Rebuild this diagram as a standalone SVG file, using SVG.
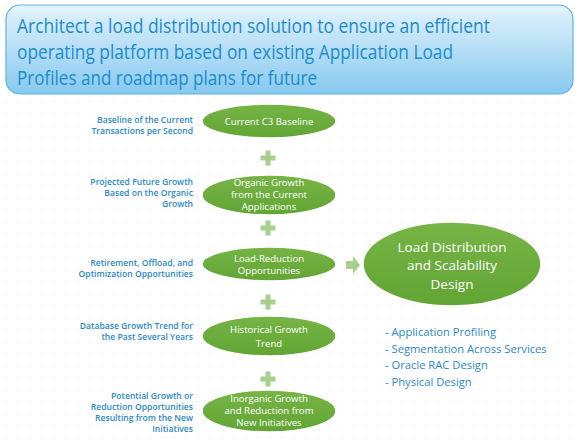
<svg xmlns="http://www.w3.org/2000/svg" width="578" height="448" viewBox="0 0 578 448">
<defs>
<linearGradient id="tg" x1="0" y1="0" x2="0" y2="1">
<stop offset="0" stop-color="#e4f3fc"/>
<stop offset="1" stop-color="#86c9ef"/>
</linearGradient>
<linearGradient id="eg" x1="0" y1="0" x2="0" y2="1">
<stop offset="0" stop-color="#76b445"/>
<stop offset="1" stop-color="#62a535"/>
</linearGradient>
<pattern id="dots" width="12" height="12" patternUnits="userSpaceOnUse">
<rect x="5" y="5" width="2" height="2" fill="#f6f7f8"/>
</pattern>
<g id="plus"><path d="M-2.5,-7.5h5v5h5v5h-5v5h-5v-5h-5v-5h5z" fill="#a8d08d"/></g>
</defs>
<style>
.title{font-family:"Open Sans","Liberation Sans",sans-serif;font-size:20px;fill:#1b8ccc}
.lbl{font-family:"Open Sans","Liberation Sans",sans-serif;font-size:8.6px;font-weight:600;fill:#2c89c4;text-anchor:end}
.node{fill:url(#eg);stroke:#fff;stroke-width:1.5}
.nt{font-family:"Open Sans","Liberation Sans",sans-serif;font-size:9.6px;fill:#fff;text-anchor:middle}
.bt{font-family:"Open Sans","Liberation Sans",sans-serif;font-size:13.5px;fill:#fff;text-anchor:middle}
.bul{font-family:"Open Sans","Liberation Sans",sans-serif;font-size:11.2px;fill:#2c89c4}
</style>
<rect width="578" height="448" fill="#fff"/>
<rect width="578" height="448" fill="url(#dots)"/>
<g id="title">
<rect x="6" y="5" width="567" height="89" rx="14" fill="url(#tg)" stroke="#5fb3e3" stroke-width="1.2"/>
<text class="title" x="17" y="33" textLength="473" lengthAdjust="spacingAndGlyphs">Architect a load distribution solution to ensure an efficient</text>
<text class="title" x="17" y="59" textLength="436" lengthAdjust="spacingAndGlyphs">operating platform based on existing Application Load</text>
<text class="title" x="17" y="85" textLength="300" lengthAdjust="spacingAndGlyphs">Profiles and roadmap plans for future</text>
</g>
<g id="labels">
<text class="lbl" x="193" y="123">Baseline of the Current</text>
<text class="lbl" x="193" y="134">Transactions per Second</text>
<text class="lbl" x="193" y="185">Projected Future Growth</text>
<text class="lbl" x="193" y="196">Based on the Organic</text>
<text class="lbl" x="193" y="207">Growth</text>
<text class="lbl" x="193" y="266">Retirement, Offload, and</text>
<text class="lbl" x="193" y="277">Optimization Opportunities</text>
<text class="lbl" x="193" y="329">Database Growth Trend for</text>
<text class="lbl" x="193" y="340">the Past Several Years</text>
<text class="lbl" x="193" y="399">Potential Growth or</text>
<text class="lbl" x="193" y="410">Reduction Opportunities</text>
<text class="lbl" x="193" y="421">Resulting from the New</text>
<text class="lbl" x="193" y="432">Initiatives</text>
</g>
<g id="connectors">
<use href="#plus" x="268" y="158"/>
<use href="#plus" x="268" y="228"/>
<use href="#plus" x="268" y="302"/>
<use href="#plus" x="268" y="379"/>
<path d="M346,261h7v-5l7,9l-7,9v-5h-7z" fill="#a8d08d"/>
</g>
<g id="n1">
<ellipse class="node" cx="269" cy="121" rx="67" ry="17"/>
<text class="nt" x="269" y="124.5">Current C3 Baseline</text>
</g>
<g id="n2">
<ellipse class="node" cx="269" cy="195" rx="67" ry="20"/>
<text class="nt" x="269" y="186">Organic Growth</text>
<text class="nt" x="269" y="198">from the Current</text>
<text class="nt" x="269" y="210">Applications</text>
</g>
<g id="n3">
<ellipse class="node" cx="269" cy="264" rx="67" ry="17"/>
<text class="nt" x="269" y="261.5">Load-Reduction</text>
<text class="nt" x="269" y="274">Opportunities</text>
</g>
<g id="n4">
<ellipse class="node" cx="269" cy="336" rx="67" ry="20"/>
<text class="nt" x="269" y="333">Historical Growth</text>
<text class="nt" x="269" y="347">Trend</text>
</g>
<g id="n5">
<ellipse class="node" cx="269" cy="411" rx="67" ry="21"/>
<text class="nt" x="269" y="402">Inorganic Growth</text>
<text class="nt" x="269" y="414">and Reduction from</text>
<text class="nt" x="269" y="426">New Initiatives</text>
</g>
<g id="n6">
<ellipse class="node" cx="452" cy="264" rx="89" ry="42"/>
<text class="bt" x="452" y="252">Load Distribution</text>
<text class="bt" x="452" y="270">and Scalability</text>
<text class="bt" x="452" y="289">Design</text>
</g>
<g id="bullets">
<text class="bul" x="385" y="336">- Application Profiling</text>
<text class="bul" x="385" y="353">- Segmentation Across Services</text>
<text class="bul" x="385" y="369">- Oracle RAC Design</text>
<text class="bul" x="385" y="386">- Physical Design</text>
</g>
</svg>
